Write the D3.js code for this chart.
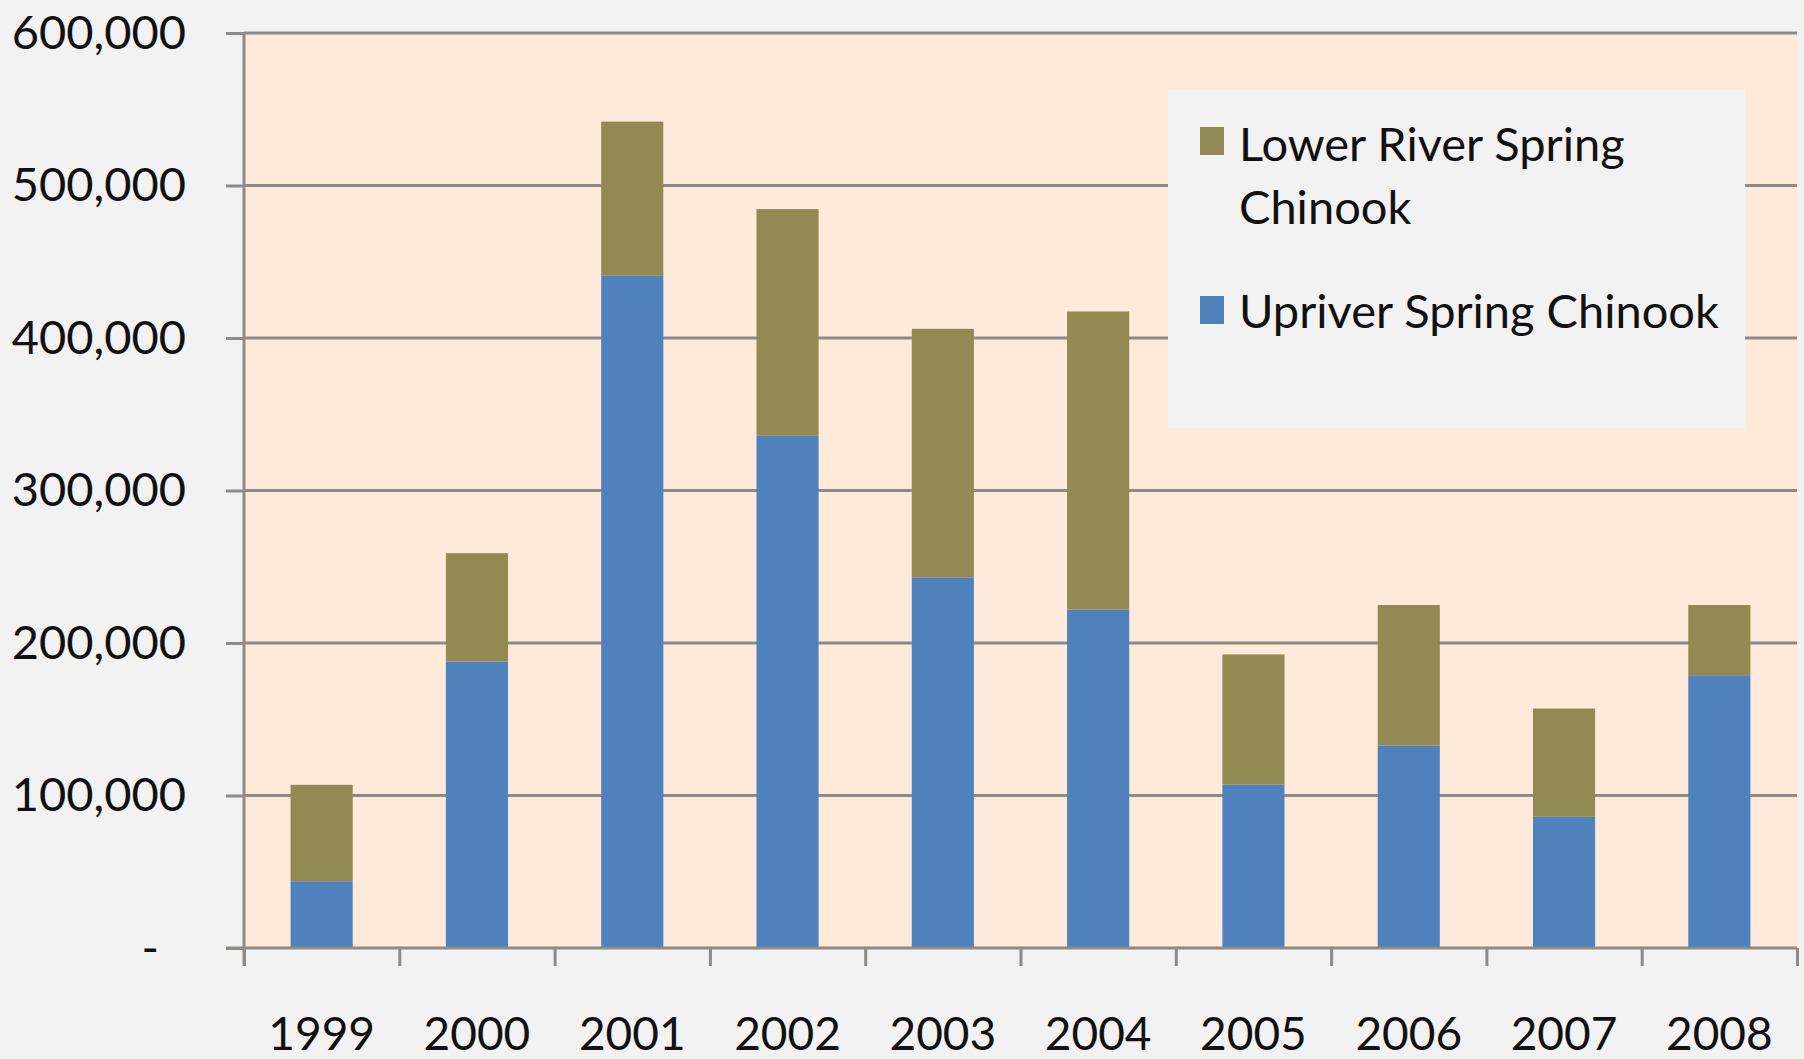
<!DOCTYPE html>
<html>
<head>
<meta charset="utf-8">
<script src="https://cdn.jsdelivr.net/npm/d3@7"></script>
<style>
  html, body { margin: 0; padding: 0; background: #f2f2f2; }
  svg { display: block; }
  text { font-family: Lato, "Open Sans", sans-serif; fill: #111; }
</style>
</head>
<body>
<svg id="chart" width="1804" height="1059"></svg>
<script>
// ---- data ----
const years = ["1999","2000","2001","2002","2003","2004","2005","2006","2007","2008"];
const upriver = [43800, 187900, 440800, 335800, 243000, 221900, 107200, 132800, 86000, 178900];
const lowerRiver = [63200, 71000, 101100, 148700, 163000, 195500, 85300, 92100, 71000, 46000];
const seriesNames = ["Lower River Spring Chinook", "Upriver Spring Chinook"];
const yTickValues = [0, 100000, 200000, 300000, 400000, 500000, 600000];
const yTickLabels = ["-", "100,000", "200,000", "300,000", "400,000", "500,000", "600,000"];

// ---- layout ----
const plotL = 244, plotR = 1797, plotT = 33, plotB = 948;
const colors = { lower: "#938953", upriver: "#4f81bd" };
const gridColor = "#8e8a86";

const svg = d3.select("#chart");

const x = d3.scaleBand().domain(years).range([plotL, plotR]).paddingInner(0.6).paddingOuter(0.3);
const xEdges = d3.scaleLinear().domain([0, years.length]).range([plotL, plotR]);
const y = d3.scaleLinear().domain([0, 600000]).range([plotB, plotT]);

// plot background
svg.append("rect").attr("x", plotL).attr("y", plotT)
  .attr("width", plotR - plotL).attr("height", plotB - plotT)
  .attr("fill", "#fdeadb");

// gridlines
svg.append("g").selectAll("line").data(yTickValues.filter(v => v > 0)).join("line")
  .attr("x1", plotL).attr("x2", plotR)
  .attr("y1", d => y(d)).attr("y2", d => y(d))
  .attr("stroke", gridColor).attr("stroke-width", 3);

// stacked bars
const rows = years.map((yr, i) => ({ year: yr, upriver: upriver[i], lower: lowerRiver[i] }));
const stack = d3.stack().keys(["upriver", "lower"])(rows);
svg.append("g").selectAll("g").data(stack).join("g")
  .attr("fill", d => colors[d.key])
  .selectAll("rect").data(d => d).join("rect")
  .attr("x", d => x(d.data.year))
  .attr("width", x.bandwidth())
  .attr("y", d => y(d[1]))
  .attr("height", d => y(d[0]) - y(d[1]));

// y axis
const yAxis = svg.append("g").attr("transform", `translate(${plotL},0)`)
  .call(d3.axisLeft(y).tickValues(yTickValues).tickSize(18).tickPadding(40)
    .tickFormat((d, i) => yTickLabels[i]));
yAxis.select(".domain").attr("stroke", gridColor).attr("stroke-width", 3)
  .attr("d", `M0,${plotT}V${plotB + 18}`);
yAxis.selectAll(".tick line").attr("stroke", gridColor).attr("stroke-width", 3);
yAxis.selectAll(".tick text").attr("font-size", 47).attr("fill", "#111")
  .attr("font-family", "Lato, sans-serif")
  .attr("dx", (d, i) => yTickLabels[i] === "-" ? -27 : 0);

// x axis line + boundary ticks
const xAxis = svg.append("g").attr("transform", `translate(0,${plotB})`)
  .call(d3.axisBottom(xEdges).tickValues(d3.range(0, years.length + 1)).tickSize(18).tickFormat(""));
xAxis.select(".domain").attr("stroke", gridColor).attr("stroke-width", 3)
  .attr("d", `M${plotL - 18},0H${plotR}`);
xAxis.selectAll(".tick line").attr("stroke", gridColor).attr("stroke-width", 3);

// x labels
svg.append("g").selectAll("text").data(years).join("text")
  .attr("x", d => x(d) + x.bandwidth() / 2)
  .attr("y", 1050)
  .attr("text-anchor", "middle")
  .attr("font-size", 46)
  .text(d => d);

// legend
const lg = svg.append("g");
lg.append("rect").attr("x", 1168).attr("y", 90).attr("width", 577).attr("height", 338)
  .attr("fill", "#f2f2f2");
const legendItems = [
  { name: seriesNames[0], color: colors.lower, lines: ["Lower River Spring", "Chinook"], sq: 127, base: 161 },
  { name: seriesNames[1], color: colors.upriver, lines: ["Upriver Spring Chinook"], sq: 296, base: 328 }
];
legendItems.forEach(it => {
  lg.append("rect").attr("x", 1200).attr("y", it.sq).attr("width", 24).attr("height", 28)
    .attr("fill", it.color);
  const t = lg.append("text").attr("x", 1239).attr("y", it.base).attr("font-size", 47);
  it.lines.forEach((ln, j) => {
    t.append("tspan").attr("x", 1239).attr("dy", j === 0 ? 0 : 63).text(ln);
  });
});
</script>
</body>
</html>
